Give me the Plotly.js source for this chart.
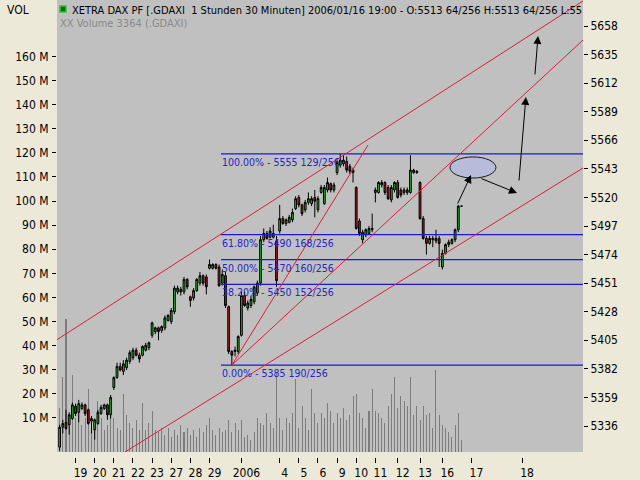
<!DOCTYPE html>
<html><head><meta charset="utf-8">
<script src="https://cdn.plot.ly/plotly-3.0.1.min.js"></script>
<style>html,body{margin:0;padding:0;background:#ece9d8;}#chart{width:640px;height:480px;}</style>
</head><body><div id="chart"></div>
<script>
// ---- data (1.5h bars, XETRA DAX, 16 Dec 2005 - 16 Jan 2006) ----
const barOpen = [5319,5335,5339,5337,5342,5352,5347,5350,5353,5349, 5340,5333,5338,5346,5350,5353,5345,5367,5375,5384,
 5380,5383,5388,5391,5397,5393,5393,5397,5399,5409, 5412,5415,5413,5415,5421,5420,5428,5444,5446,5444,
 5454,5440,5439,5445,5451,5457,5456,5463,5463,5466, 5464,5451,5457,5432,5396,5396,5396,5409,5441,5431,
 5433,5436,5443,5451,5486,5491,5488,5488,5485,5493, 5503,5499,5500,5502,5511,5520,5514,5510,5516,5515,
 5520,5510,5524,5515,5526,5531,5526,5540,5546,5547, 5549,5545,5542,5528,5501,5486,5490,5491,5494,5524,
 5524,5530,5532,5528,5518,5526,5532,5526,5524,5524, 5524,5540,5541,5532,5503,5487,5483,5486,5485,5487,
 5464,5475,5482,5483,5486,5494,5513];
const barHigh = [5337,5341,5349,5347,5355,5354,5357,5355,5354,5350, 5344,5342,5349,5353,5354,5354,5361,5376,5387,5387,
 5389,5391,5397,5399,5399,5395,5401,5403,5404,5420, 5416,5416,5417,5425,5426,5431,5449,5449,5448,5456,
 5455,5441,5447,5455,5460,5458,5458,5470,5467,5467, 5466,5462,5460,5433,5397,5400,5409,5444,5444,5437,
 5441,5449,5453,5489,5495,5493,5496,5498,5489,5514, 5505,5503,5506,5511,5521,5522,5515,5518,5524,5521,
 5526,5521,5530,5530,5536,5532,5532,5550,5555,5554, 5553,5547,5544,5529,5503,5494,5495,5497,5507,5528,
 5533,5534,5533,5530,5530,5533,5534,5528,5528,5528, 5554,5543,5542,5533,5505,5489,5489,5489,5494,5489,
 5478,5483,5486,5487,5495,5514,5513];
const barLow = [5316,5330,5333,5329,5341,5344,5339,5349,5344,5337, 5330,5325,5337,5345,5349,5341,5342,5365,5374,5380,
 5377,5381,5386,5389,5392,5387,5392,5396,5397,5407, 5410,5405,5411,5413,5420,5418,5426,5442,5441,5442,
 5446,5432,5437,5444,5449,5449,5442,5462,5462,5462, 5448,5449,5431,5394,5385,5392,5394,5408,5432,5429,
 5431,5434,5441,5449,5484,5486,5487,5487,5448,5491, 5498,5497,5499,5500,5510,5512,5505,5508,5514,5513,
 5504,5508,5523,5514,5524,5524,5524,5538,5544,5545, 5540,5539,5532,5494,5489,5483,5488,5490,5492,5516,
 5523,5528,5522,5518,5516,5524,5519,5520,5522,5522, 5523,5539,5539,5502,5486,5474,5482,5480,5483,5464,
 5462,5474,5480,5482,5484,5492,5513];
const barClose = [5335,5338,5334,5345,5353,5346,5354,5353,5346,5338, 5342,5341,5347,5351,5353,5345,5359,5375,5384,5381,
 5386,5389,5395,5397,5393,5390,5400,5401,5403,5419, 5415,5412,5416,5423,5425,5429,5447,5447,5444,5454,
 5448,5437,5445,5454,5457,5451,5448,5466,5466,5463, 5449,5458,5433,5396,5393,5397,5408,5441,5433,5435,
 5438,5448,5451,5486,5491,5487,5493,5491,5453,5503, 5499,5502,5504,5508,5519,5514,5507,5516,5519,5519,
 5517,5519,5528,5528,5532,5526,5530,5548,5550,5550, 5542,5541,5540,5495,5491,5492,5494,5495,5495,5526,
 5532,5532,5524,5519,5528,5532,5520,5522,5526,5526, 5542,5542,5540,5503,5487,5483,5487,5487,5487,5483,
 5475,5482,5484,5486,5494,5513,5513];
const volumeM = [14,27,51,8,28,10,12,7,10,22, 10,8,17,10,5,7,19,10,6,5, 20,11,8,6,9,5,16,5,8,13,
 5,4,6,3,6,2,5,3,7,4, 6,3,5,2,6,4,7,10,5,3, 6,4,5,9,4,8,5,9,2,3,
 1,4,10,8,7,12,8,6,29,10, 5,10,8,12,26,6,15,10,5,22, 12,8,12,10,16,13,8,12,10,14,
 9,11,19,20,12,10,6,13,22,13, 12,10,8,15,20,27,14,19,17,15, 27,11,15,9,15,11,12,6,30,11,
 7,6,4,2,7,12,1];
const barIndex = barOpen.map((_, i) => i);

// day labels (bar index where each day starts; 17/18 are future)
const dayTickIdx = [5,11,17,23,29,35,41,47,57,69,75,81,87,93,99,106,113,120,129.1,145];
const dayLabels = ['19','20','21','22','23','27','28','29','2006','4','5','6','9','10','11','12','13','16','17','18'];
const priceTicks = [5336,5359,5382,5405,5428,5451,5474,5497,5520,5543,5566,5589,5612,5635,5658];
const volTicks = [10,20,30,40,50,60,70,80,90,100,110,120,130,140,150,160];

// fibonacci retracement
const fibLevels = [5555,5490,5470,5450,5385];
const fibLabels = ['100.00% - 5555 129/256','61.80% - 5490 168/256','50.00% - 5470 160/256','38.20% - 5450 152/256','0.00% - 5385 190/256'];
const fibStartIdx = 50.6;

// trend lines (bar index, price)
const trendStartIdx = [-0.82, 54, 54, 20.5];
const trendStartPrice = [5405.5, 5385, 5385, 5315.1];
const trendEndIdx = [164.1, 164.1, 96.7, 164.1];
const trendEndPrice = [5678.1, 5646.7, 5562.2, 5543.7];

// forecast arrows (tail -> head)
const arrowTailIdx = [124.6, 131.8, 144.0, 149.0];
const arrowTailPrice = [5513.9, 5535.6, 5532.4, 5617.8];
const arrowHeadIdx = [129.0, 143.4, 146.2, 150.0];
const arrowHeadPrice = [5538.1, 5523.6, 5600.9, 5650.0];
// target ellipse
const ellipseIdx = [122.4, 136.8];
const ellipsePrice = [5535.6, 5552.6];

const X_RANGE = [-0.82, 164.1];
const PRICE_RANGE = [5315.07, 5678.93];
const VOL_RANGE = [-4.15, 183.4];

const FONT = 'Liberation Sans Narrow, DejaVu Sans Condensed, Arial Narrow, sans-serif';

const traces = [];
traces.push({
  type: 'bar', x: barIndex, y: volumeM.map(v => v - VOL_RANGE[0]), base: VOL_RANGE[0],
  width: 0.32, marker: {color: '#7c7c7c', line: {width: 0}}, xaxis: 'x', yaxis: 'y', hoverinfo: 'skip'
});
traces.push({
  type: 'candlestick', x: barIndex, open: barOpen, high: barHigh, low: barLow, close: barClose,
  xaxis: 'x', yaxis: 'y2', whiskerwidth: 0,
  increasing: {fillcolor: '#22bb22', line: {color: '#000000', width: 1}},
  decreasing: {fillcolor: '#b01c1c', line: {color: '#000000', width: 1}}
});
for (let k = 0; k < fibLevels.length; k++) {
  traces.push({type: 'scatter', mode: 'lines', x: [fibStartIdx, X_RANGE[1]], y: [fibLevels[k], fibLevels[k]],
    xaxis: 'x', yaxis: 'y2', line: {color: '#1a1ad0', width: 1.2}, hoverinfo: 'skip'});
}
for (let k = 0; k < trendStartIdx.length; k++) {
  traces.push({type: 'scatter', mode: 'lines', x: [trendStartIdx[k], trendEndIdx[k]], y: [trendStartPrice[k], trendEndPrice[k]],
    xaxis: 'x', yaxis: 'y2', line: {color: '#dc1e3c', width: 1}, hoverinfo: 'skip'});
}

const annotations = [];
for (let k = 0; k < fibLevels.length; k++) {
  annotations.push({xref: 'x', yref: 'y2', x: fibStartIdx, y: fibLevels[k], xanchor: 'left', yanchor: 'top',
    text: fibLabels[k], showarrow: false, font: {family: FONT, size: 10.5, color: '#2424c8'}, borderpad: 0, xshift: 0, yshift: -1});
}
for (let k = 0; k < arrowTailIdx.length; k++) {
  annotations.push({xref: 'x', yref: 'y2', axref: 'x', ayref: 'y2', x: arrowHeadIdx[k], y: arrowHeadPrice[k],
    ax: arrowTailIdx[k], ay: arrowTailPrice[k], text: '', showarrow: true, arrowhead: 2, arrowsize: 1.6,
    arrowwidth: 1, arrowcolor: '#000000', standoff: 0, startstandoff: 0});
}
annotations.push({xref: 'paper', yref: 'paper', x: -0.0989, y: 0.978, xanchor: 'left', yanchor: 'middle',
  text: 'VOL', showarrow: false, font: {family: FONT, size: 12, color: '#000'}});
annotations.push({xref: 'paper', yref: 'paper', x: 0.0247, y: 0.978, xanchor: 'left', yanchor: 'middle',
  text: 'XETRA DAX PF [.GDAXI  1 Stunden 30 Minuten] 2006/01/16 19:00 - O:5513 64/256 H:5513 64/256 L:55',
  showarrow: false, font: {family: FONT, size: 11, color: '#000'}});
annotations.push({xref: 'paper', yref: 'paper', x: 0.0019, y: 0.9475, xanchor: 'left', yanchor: 'middle',
  text: 'XX Volume 3364 (.GDAXI)', showarrow: false, font: {family: FONT, size: 11, color: '#8a8a8a'}});

const shapes = [
  {type: 'circle', xref: 'x', yref: 'y2', x0: ellipseIdx[0], x1: ellipseIdx[1], y0: ellipsePrice[0], y1: ellipsePrice[1],
   fillcolor: '#b8bcda', line: {color: '#1a1a1a', width: 1}, layer: 'above'},
  {type: 'rect', xref: 'paper', yref: 'paper', x0: 0.0057, x1: 0.0171, y0: 0.9737, y1: 0.9869,
   fillcolor: '#1f5f1f', line: {color: '#22cc22', width: 1.5}, layer: 'above'}
];

const layout = {
  width: 640, height: 480,
  margin: {l: 57, r: 57, t: 0, b: 23, pad: 0},
  paper_bgcolor: '#ece9d8', plot_bgcolor: '#c0c0c0',
  showlegend: false, bargap: 0, boxgap: 0.2,
  font: {family: FONT, size: 12, color: '#000'},
  xaxis: {domain: [0, 1], range: X_RANGE, anchor: 'free', position: 0, showgrid: false, zeroline: false, showline: false,
    ticks: 'outside', ticklen: 5, tickwidth: 1, tickcolor: '#000', tickvals: dayTickIdx, ticktext: dayLabels,
    tickfont: {family: FONT, size: 12, color: '#000'}, ticklabelshift: 5, rangeslider: {visible: false}, fixedrange: true},
  yaxis: {domain: [5/457, 1], range: VOL_RANGE, side: 'left', showgrid: false, zeroline: false, showline: false,
    ticks: 'outside', ticklen: 4, tickcolor: '#000', tickvals: volTicks, ticktext: volTicks.map(v => v + ' M'),
    tickfont: {family: FONT, size: 12, color: '#000'}, ticklabelstandoff: 1, fixedrange: true},
  yaxis2: {overlaying: 'y', side: 'right', anchor: 'x', range: PRICE_RANGE, showgrid: false, zeroline: false, showline: false,
    ticks: 'outside', ticklen: 4, tickcolor: '#000', tickvals: priceTicks,
    tickfont: {family: FONT, size: 12, color: '#000'}, fixedrange: true},
  annotations: annotations, shapes: shapes
};

Plotly.newPlot('chart', traces, layout, {staticPlot: true, displayModeBar: false});
</script></body></html>
